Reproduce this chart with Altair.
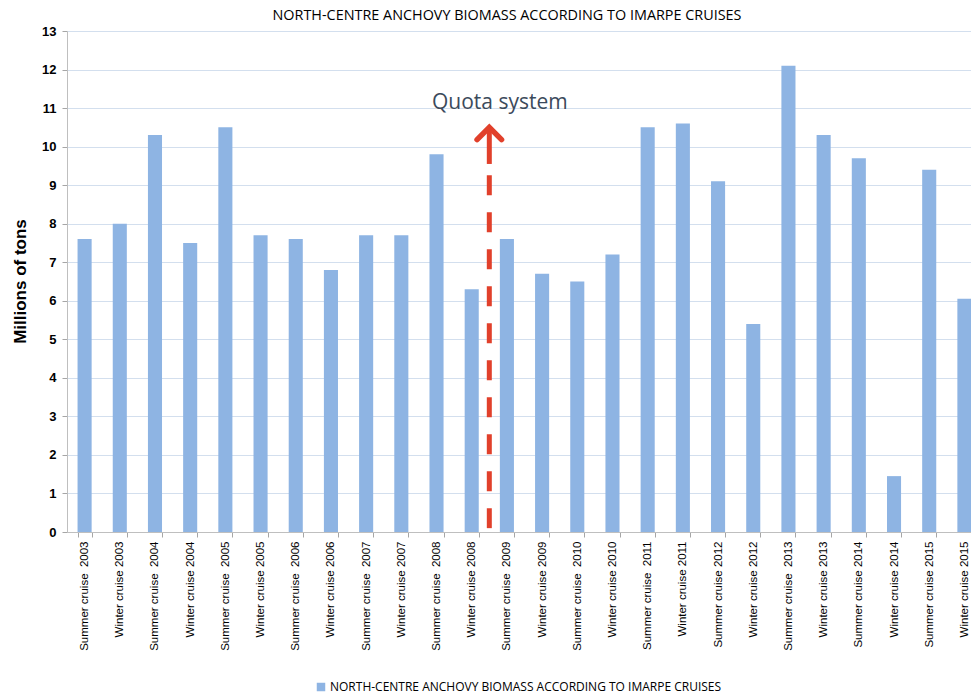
import altair as alt
import pandas as pd

NB = "\u00a0"
categories = [
    "Summer cruise" + NB + " 2003", "Winter cruise 2003", "Summer cruise" + NB + " 2004", "Winter cruise 2004",
    "Summer cruise" + NB + " 2005", "Winter cruise 2005", "Summer cruise" + NB + " 2006", "Winter cruise 2006",
    "Summer cruise" + NB + " 2007", "Winter cruise 2007", "Summer cruise" + NB + " 2008", "Winter cruise 2008",
    "Summer cruise" + NB + " 2009", "Winter cruise 2009", "Summer cruise" + NB + " 2010", "Winter cruise 2010",
    "Summer cruise" + NB + " 2011", "Winter cruise 2011", "Summer cruise 2012", "Winter cruise 2012",
    "Summer cruise" + NB + " 2013", "Winter cruise 2013", "Summer cruise 2014", "Winter cruise 2014",
    "Summer cruise 2015", "Winter cruise 2015",
]
biomass = [7.6, 8.0, 10.3, 7.5, 10.5, 7.7, 7.6, 6.8, 7.7, 7.7, 9.8, 6.3,
           7.6, 6.7, 6.5, 7.2, 10.5, 10.6, 9.1, 5.4, 12.1, 10.3, 9.7, 1.45, 9.4, 6.05]
series_name = "NORTH-CENTRE ANCHOVY BIOMASS ACCORDING TO IMARPE CRUISES"
y_ticks = list(range(0, 14))

# annotation: quota system introduced between Winter 2008 and Summer 2009
quota_pos = [12]
dash_y = [0.1, 9.65]
head_y = [10.42]
quota_label = ["Quota system"]
quota_label_pos = [12.3]
quota_label_y = [11.12]

bars_df = pd.DataFrame({"cat": categories, "value": biomass, "series": series_name})
dash_df = pd.DataFrame({"q": quota_pos * len(dash_y), "y": dash_y})
shaft_df = pd.DataFrame({"q": quota_pos * 2, "y": [9.55, 10.45]})
head_df = pd.DataFrame({"q": quota_pos, "y": head_y})
text_df = pd.DataFrame({"q": quota_label_pos, "y": quota_label_y, "t": quota_label})

W, H = 904, 501
RANGE = [0, 915]
RED = "#E1402B"

yscale = alt.Scale(domain=[0, 13], nice=False)

bars = alt.Chart(bars_df).mark_bar(color="#8EB4E3").encode(
    x=alt.X("cat:N", sort=None, title=None,
            scale=alt.Scale(paddingInner=0.6, paddingOuter=0.3, range=RANGE),
            axis=alt.Axis(labelAngle=270, labelFont="Liberation Sans", labelFontSize=11.5,
                          labelColor="#000000", tickBand="extent", tickSize=5,
                          tickColor="#A6A6A6", domainColor="#BFBFBF", labelPadding=4,
                          grid=False, labelOverlap=False, labelLimit=200)),
    y=alt.Y("value:Q", scale=yscale, title="Millions of tons",
            axis=alt.Axis(values=y_ticks, labelFont="Liberation Sans", labelFontSize=13,
                          labelFontWeight="bold", labelColor="#000000", tickSize=5,
                          tickColor="#A6A6A6", domainColor="#BFBFBF", labelPadding=6,
                          labelOverlap=False,
                          grid=True, gridColor="#D3DFEE", gridWidth=1.2,
                          titleFont="Liberation Sans", titleFontSize=17,
                          titleFontWeight="bold", titleColor="#000000",
                          titleX=-47, titleY=250, titleBaseline="middle", titleAngle=270)),
    color=alt.Color("series:N", scale=alt.Scale(range=["#8EB4E3"]),
                    legend=alt.Legend(orient="none", legendX=248, legendY=650, title=None,
                                      symbolType="square", symbolSize=72,
                                      symbolStrokeWidth=0, labelFont="Open Sans",
                                      labelFontSize=12, labelColor="#000000", labelLimit=600,
                                      padding=0, symbolOffset=0, labelOffset=3)),
)

qx = alt.X("q:Q", scale=alt.Scale(domain=[0, 26], range=RANGE, nice=False, zero=False), axis=None)
qy = alt.Y("y:Q", scale=yscale, axis=None)

dash = alt.Chart(dash_df).mark_line(color=RED, strokeWidth=5, strokeDash=[20, 17]).encode(
    x=qx, y=qy
)
shaft = alt.Chart(shaft_df).mark_line(color=RED, strokeWidth=5).encode(
    x=qx, y=qy
)
head = alt.Chart(head_df).mark_point(
    shape="M-1,0.75L0,-0.25L1,0.75", size=600, stroke=RED, strokeWidth=5.5,
    filled=False, opacity=1, strokeJoin="miter", strokeCap="round"
).encode(x=qx, y=qy)
label = alt.Chart(text_df).mark_text(
    font="Open Sans", fontSize=21, color="#3B4A5B", baseline="middle", align="center"
).encode(x=qx, y=qy, text="t:N")

chart = alt.layer(bars, dash, shaft, head, label).resolve_scale(
    x="independent"
).resolve_axis(y="independent").properties(
    width=W, height=H,
    autosize=alt.AutoSizeParams(type="none"),
    padding={"left": 67, "top": 31, "right": 0, "bottom": 163},
    title=alt.TitleParams(series_name, font="Open Sans", fontSize=14.4, fontWeight="normal",
                          color="#000000", anchor="middle", dx=-12, offset=2),
).configure_view(stroke=None)

chart.save("out.html", embed_options={"renderer": "svg", "actions": False})
